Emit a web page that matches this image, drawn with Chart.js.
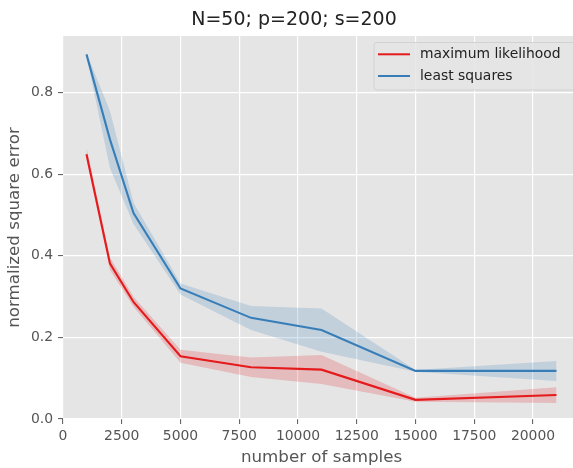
<!DOCTYPE html>
<html>
<head>
<meta charset="utf-8">
<script src="https://cdn.jsdelivr.net/npm/chart.js@4/dist/chart.umd.min.js"></script>
<style>
  html, body { margin: 0; padding: 0; background: #ffffff; overflow: hidden; }
  #wrap { position: relative; width: 580px; height: 468px; }
</style>
</head>
<body>
<div id="wrap"><canvas id="c" width="580" height="468"></canvas></div>
<script>
// ---- data ----
const chartTitle = "N=50; p=200; s=200";
const xAxisLabel = "number of samples";
const yAxisLabel = "normalized square error";
const samples = [1000, 2000, 3000, 5000, 8000, 11000, 15000, 21000];
const seriesNames = ["maximum likelihood", "least squares"];
const mlMean = [0.649, 0.381, 0.287, 0.154, 0.127, 0.121, 0.047, 0.059];
const mlLow  = [0.636, 0.365, 0.275, 0.138, 0.103, 0.086, 0.042, 0.039];
const mlHigh = [0.666, 0.396, 0.300, 0.170, 0.151, 0.157, 0.052, 0.078];
const lsMean = [0.894, 0.685, 0.505, 0.320, 0.248, 0.218, 0.118, 0.118];
const lsLow  = [0.890, 0.615, 0.478, 0.305, 0.218, 0.165, 0.116, 0.093];
const lsHigh = [0.898, 0.755, 0.530, 0.332, 0.277, 0.271, 0.120, 0.142];
const xTickValues = [0, 2500, 5000, 7500, 10000, 12500, 15000, 17500, 20000];
const yTickValues = [0.0, 0.2, 0.4, 0.6, 0.8];

const RED = "#E41A1C", BLUE = "#377EB8";
const RED_FILL = "rgba(228,26,28,0.2)", BLUE_FILL = "rgba(55,126,184,0.2)";
const FONT = "'DejaVu Sans', sans-serif";

const pts = (ys) => samples.map((x, i) => ({x: x, y: ys[i]}));

const bgPlugin = {
  id: 'bg',
  beforeDraw(chart) {
    const {ctx, chartArea: a} = chart;
    ctx.save();
    ctx.fillStyle = '#E5E5E5';
    ctx.fillRect(a.left, a.top, a.right - a.left, a.bottom - a.top);
    ctx.restore();
  }
};

const titleLegendPlugin = {
  id: 'titleLegend',
  afterDraw(chart) {
    const ctx = chart.ctx;
    ctx.save();
    // title
    ctx.fillStyle = '#222';
    ctx.font = "19px " + FONT;
    ctx.textAlign = 'center';
    ctx.textBaseline = 'alphabetic';
    ctx.fillText(chartTitle, 294, 25);
    // legend
    const bx = 374, by = 42.5, bw = 204, bh = 47.5, r = 3;
    ctx.beginPath();
    ctx.moveTo(bx + r, by);
    ctx.lineTo(bx + bw - r, by); ctx.quadraticCurveTo(bx + bw, by, bx + bw, by + r);
    ctx.lineTo(bx + bw, by + bh - r); ctx.quadraticCurveTo(bx + bw, by + bh, bx + bw - r, by + bh);
    ctx.lineTo(bx + r, by + bh); ctx.quadraticCurveTo(bx, by + bh, bx, by + bh - r);
    ctx.lineTo(bx, by + r); ctx.quadraticCurveTo(bx, by, bx + r, by);
    ctx.closePath();
    ctx.fillStyle = 'rgba(229,229,229,0.85)';
    ctx.fill();
    ctx.strokeStyle = '#D2D2D2';
    ctx.lineWidth = 1;
    ctx.stroke();
    const rows = [{c: RED, y: 54.3}, {c: BLUE, y: 76}];
    ctx.font = "13.9px " + FONT;
    ctx.textAlign = 'left';
    ctx.textBaseline = 'middle';
    rows.forEach((row, i) => {
      ctx.strokeStyle = row.c;
      ctx.lineWidth = 2;
      ctx.beginPath();
      ctx.moveTo(378, row.y); ctx.lineTo(410, row.y);
      ctx.stroke();
      ctx.fillStyle = '#222';
      ctx.fillText(seriesNames[i], 420, row.y);
    });
    ctx.restore();
  }
};

const band = (data, fill, color) => ({
  data: data, borderWidth: 0, borderColor: 'rgba(0,0,0,0)', backgroundColor: color,
  pointRadius: 0, fill: fill, tension: 0
});

new Chart(document.getElementById('c'), {
  type: 'line',
  data: {
    datasets: [
      Object.assign(band(pts(lsHigh), false, BLUE_FILL), {label: '_lsHigh', order: 5}),
      Object.assign(band(pts(lsLow), '-1', BLUE_FILL), {label: '_lsLow', order: 4}),
      Object.assign(band(pts(mlHigh), false, RED_FILL), {label: '_mlHigh', order: 5}),
      Object.assign(band(pts(mlLow), '-1', RED_FILL), {label: '_mlLow', order: 4}),
      {label: seriesNames[0], data: pts(mlMean), borderColor: RED, borderWidth: 2.1,
       pointRadius: 0, fill: false, tension: 0, order: 1},
      {label: seriesNames[1], data: pts(lsMean), borderColor: BLUE, borderWidth: 2.1,
       pointRadius: 0, fill: false, tension: 0, order: 0}
    ]
  },
  options: {
    responsive: false,
    animation: false,
    layout: {padding: {top: 36, left: 0, right: 0, bottom: 0}},
    plugins: {legend: {display: false}, title: {display: false}, tooltip: {enabled: false}},
    scales: {
      x: {
        type: 'linear', min: 0, max: 22000,
        afterFit(s) { s.height = 49; },
        afterBuildTicks(s) { s.ticks = xTickValues.map(v => ({value: v})); },
        border: {display: false},
        grid: {color: '#FFFFFF', lineWidth: 1.2, tickLength: 5, tickColor: '#555', tickWidth: 1},
        ticks: {autoSkip: false, color: '#555', padding: 4,
                font: {family: FONT, size: 13.9}, maxRotation: 0, minRotation: 0,
                callback: (v) => String(v)},
        title: {display: true, text: xAxisLabel, color: '#555', font: {family: FONT, size: 16.7},
                padding: {top: 0, bottom: 0}}
      },
      y: {
        type: 'linear', min: 0, max: 0.939,
        afterFit(s) { s.width = 63; },
        afterBuildTicks(s) { s.ticks = yTickValues.map(v => ({value: v})); },
        border: {display: false},
        grid: {color: '#FFFFFF', lineWidth: 1.2, tickLength: 5, tickColor: '#555', tickWidth: 1},
        ticks: {autoSkip: false, color: '#555', padding: 5,
                font: {family: FONT, size: 13.9},
                callback: (v) => Number(v).toFixed(1)},
        title: {display: true, text: yAxisLabel, color: '#555', font: {family: FONT, size: 16.7},
                padding: {top: 5, bottom: 0}}
      }
    }
  },
  plugins: [bgPlugin, titleLegendPlugin]
});
</script>
</body>
</html>
